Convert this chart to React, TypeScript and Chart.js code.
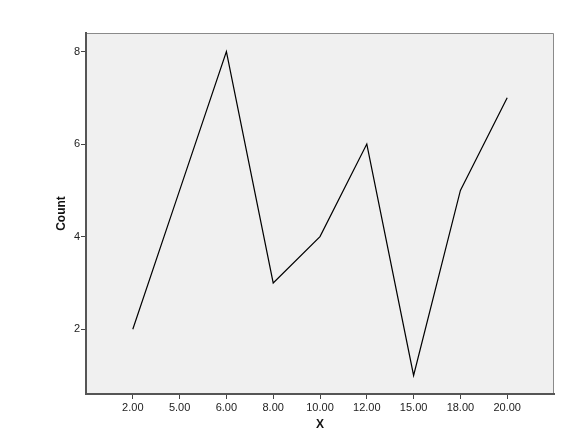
import React, { useEffect, useRef } from 'react';
import { Chart, registerables } from 'chart.js';

Chart.register(...registerables);

const categories = ['2.00', '5.00', '6.00', '8.00', '10.00', '12.00', '15.00', '18.00', '20.00'];
const counts = [2, 5, 8, 3, 4, 6, 1, 5, 7];
const yTicks = [2, 4, 6, 8];

// grey plot background plus the thin top/right frame, like SPSS
const plotFrame = {
    id: 'plotFrame',
    beforeDraw(chart: any) {
        const { ctx, chartArea } = chart;
        if (!chartArea) return;
        const { left, top, right, bottom } = chartArea;
        ctx.save();
        ctx.fillStyle = '#f0f0f0';
        ctx.fillRect(left, top, right - left, bottom - top);
        ctx.strokeStyle = '#8a8a8a';
        ctx.lineWidth = 1;
        ctx.beginPath();
        ctx.moveTo(left, top + 0.5);
        ctx.lineTo(right - 0.5, top + 0.5);
        ctx.lineTo(right - 0.5, bottom);
        ctx.stroke();
        ctx.restore();
    }
};

const App: React.FC = () => {
    const chartRef = useRef<HTMLCanvasElement>(null);
    const chartInstance = useRef<Chart | null>(null);

    useEffect(() => {
        if (!chartRef.current) return;
        if (chartInstance.current) chartInstance.current.destroy();

        const tickFont = { family: '"Liberation Sans", Arial, sans-serif', size: 11 };
        const titleFont = { family: '"Liberation Sans", Arial, sans-serif', size: 12, weight: 'bold' as const };

        chartInstance.current = new Chart(chartRef.current, {
            type: 'line',
            data: {
                datasets: [{
                    label: 'Count',
                    data: categories.map((_, i) => ({ x: i + 1, y: counts[i] })),
                    borderColor: '#000000',
                    borderWidth: 1.2,
                    pointRadius: 0,
                    tension: 0,
                    fill: false
                }]
            },
            options: {
                responsive: true,
                maintainAspectRatio: false,
                animation: false,
                layout: { padding: { top: 33, right: 17, left: 0, bottom: 0 } },
                plugins: {
                    legend: { display: false },
                    tooltip: { enabled: false }
                },
                scales: {
                    x: {
                        type: 'linear',
                        min: 0,
                        max: 10,
                        afterBuildTicks: (scale: any) => {
                            scale.ticks = categories.map((_, i) => ({ value: i + 1 }));
                        },
                        afterFit: (scale: any) => { scale.height = 38; },
                        ticks: {
                            autoSkip: false,
                            maxRotation: 0,
                            padding: 2,
                            color: '#222',
                            font: tickFont,
                            callback: (v: any) => categories[Number(v) - 1] ?? ''
                        },
                        grid: { drawOnChartArea: false, drawTicks: true, tickLength: 5, color: '#444' },
                        border: { display: true, color: '#555', width: 2 },
                        title: { display: true, text: 'X', color: '#111', font: titleFont, padding: { top: 0, bottom: 0 } }
                    },
                    y: {
                        min: 0.6,
                        max: 8.4,
                        afterBuildTicks: (scale: any) => {
                            scale.ticks = yTicks.map((v) => ({ value: v }));
                        },
                        afterFit: (scale: any) => { scale.width = 86; },
                        ticks: { padding: 1, color: '#222', font: tickFont },
                        grid: { drawOnChartArea: false, drawTicks: true, tickLength: 5, color: '#444' },
                        border: { display: true, color: '#555', width: 2 },
                        title: { display: true, text: 'Count', color: '#111', font: titleFont, padding: { top: 54, bottom: 0 } }
                    }
                }
            },
            plugins: [plotFrame]
        });

        return () => {
            if (chartInstance.current) {
                chartInstance.current.destroy();
                chartInstance.current = null;
            }
        };
    }, []);

    return (
        <div style={{ position: 'absolute', left: 0, top: 0, width: 571, height: 432, background: '#fff' }}>
            <canvas ref={chartRef}></canvas>
        </div>
    );
};

export default App;
